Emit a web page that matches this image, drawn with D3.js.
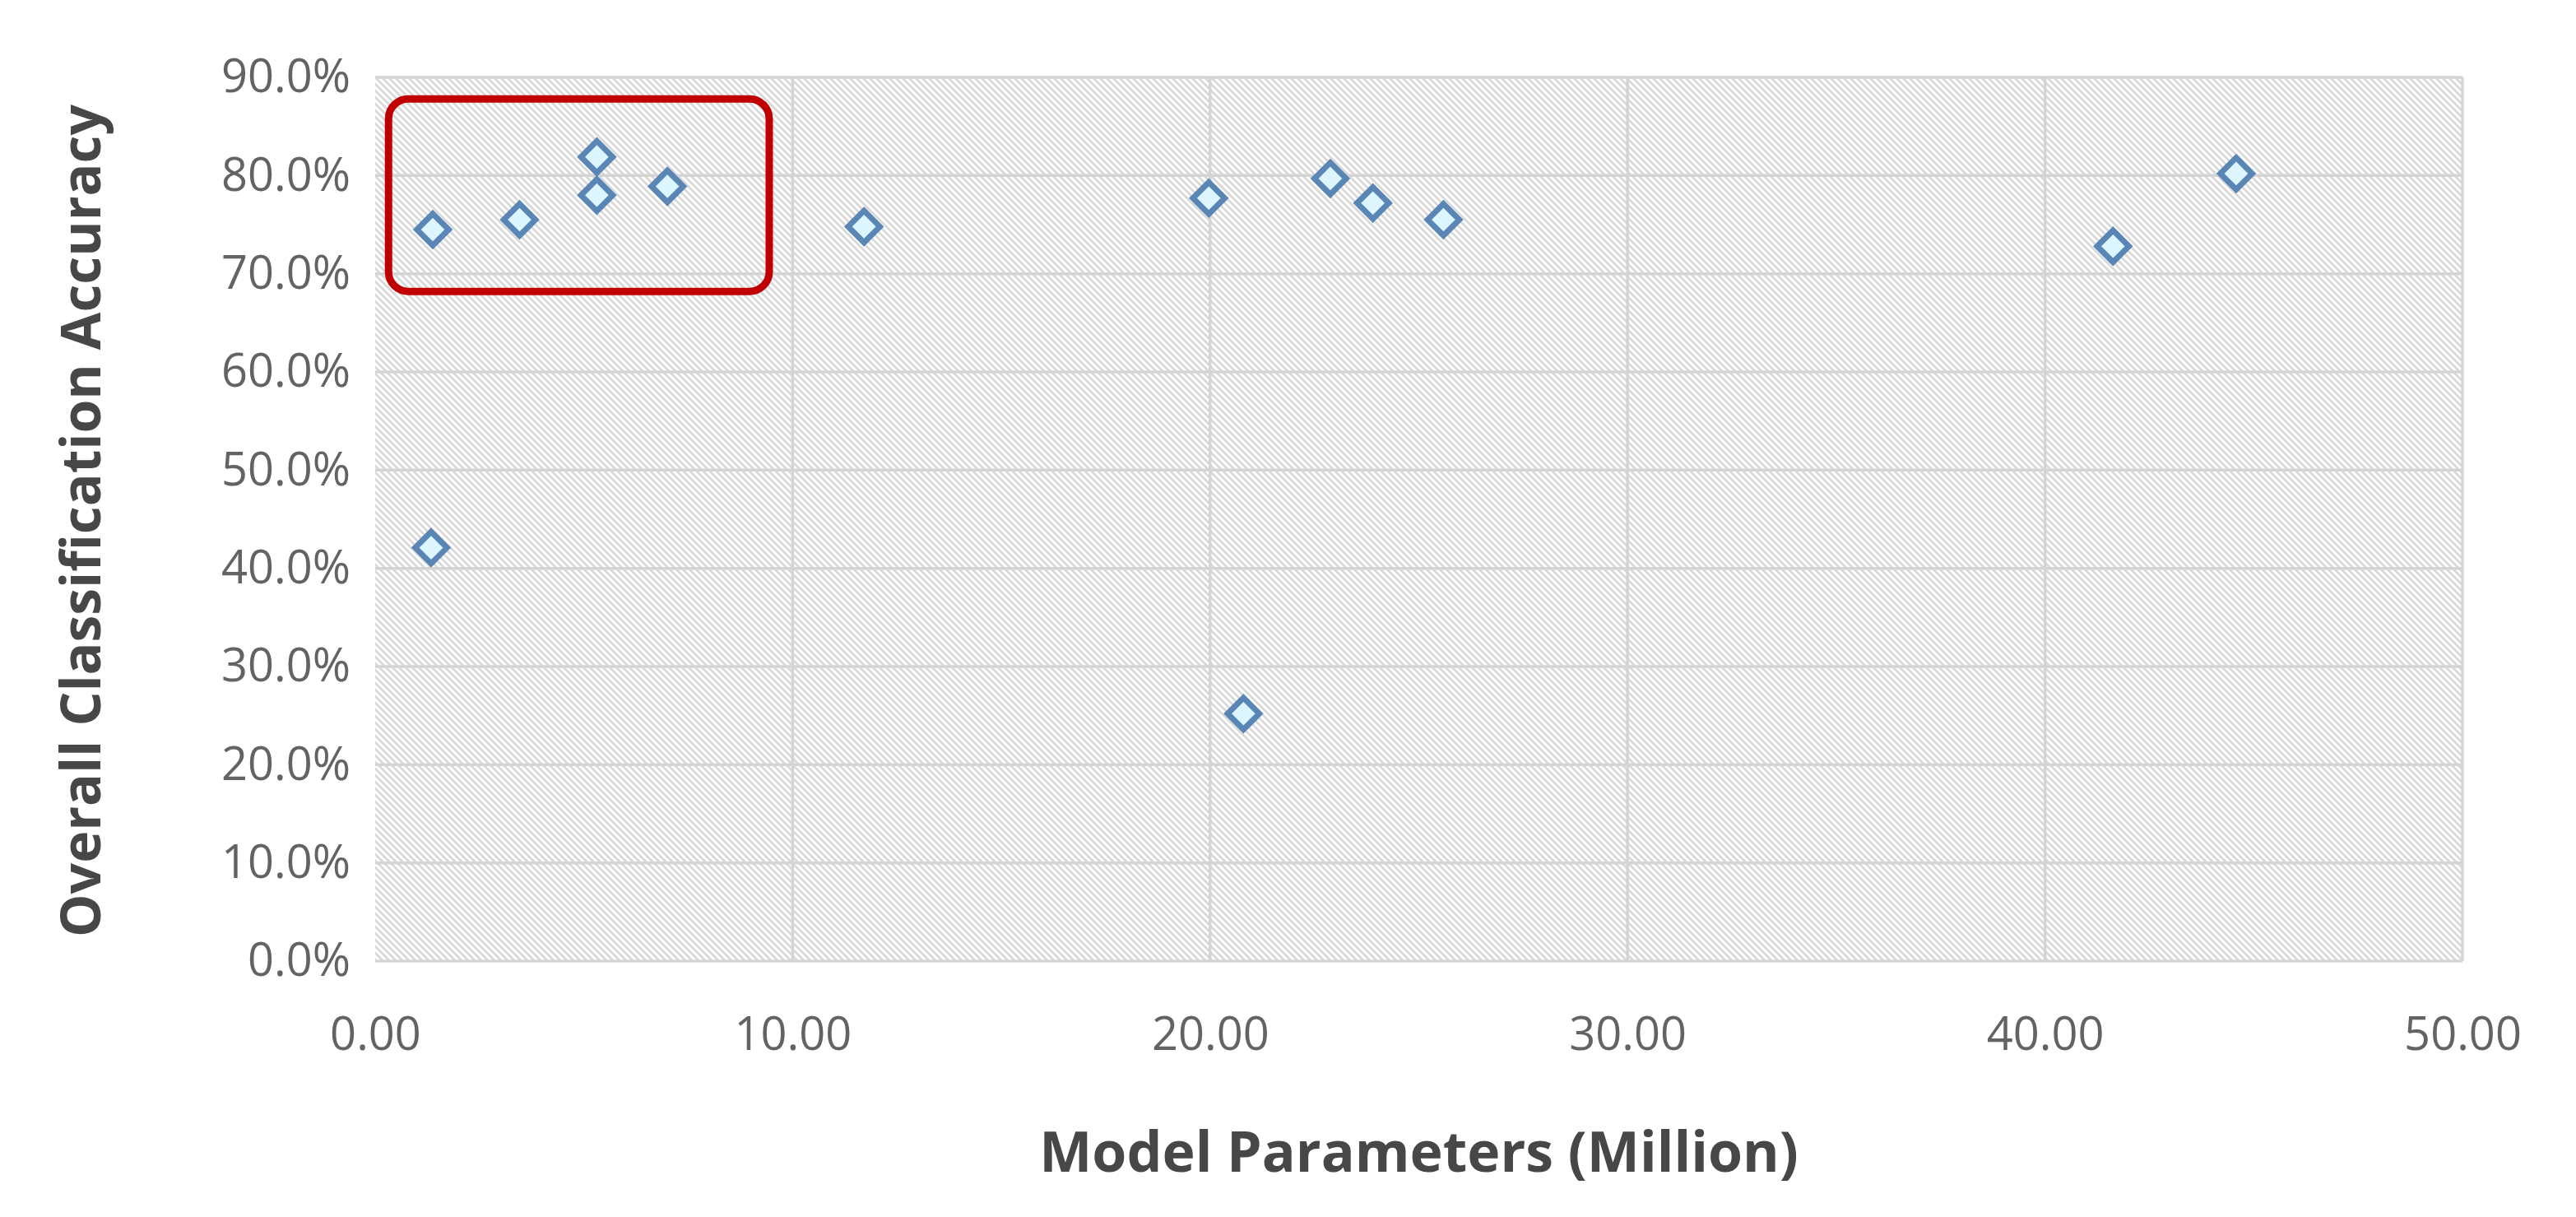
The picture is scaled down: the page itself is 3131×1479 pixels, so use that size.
<!DOCTYPE html>
<meta charset="utf-8">
<style>
    body { margin: 0; background: #fff; }
    .tick text { font-family: "Open Sans", sans-serif; fill: #636363; }
    .axis-title { font-family: "Open Sans", sans-serif; font-weight: 700; fill: #474747; }
</style>
<svg width="3131" height="1479"></svg>
<script src="https://cdn.jsdelivr.net/npm/d3@7"></script>
<script>
    // model size (million parameters) vs. overall accuracy (%)
    var params   = [1.38, 3.46, 5.31, 5.31, 7.00, 11.71, 19.97, 22.88, 23.90, 25.59, 41.63, 44.58, 1.34, 20.80];
    var accuracy = [74.5, 75.5, 81.9, 78.0, 78.9, 74.8, 77.7, 79.7, 77.2, 75.5, 72.8, 80.2, 42.1, 25.2];

    var xTicks = [0, 10, 20, 30, 40, 50];
    var yTicks = [0, 10, 20, 30, 40, 50, 60, 70, 80, 90];

    // highlighted group (red rounded box), in data units
    var boxX = [0.32, 9.44];
    var boxY = [68.2, 87.8];

    var xTitle = "Model Parameters (Million)";
    var yTitle = "Overall Classification Accuracy";

    var svg = d3.select("svg"),
        margin = {left: 456, right: 138, top: 94, bottom: 311},
        width = +svg.attr("width") - margin.left - margin.right,
        height = +svg.attr("height") - margin.top - margin.bottom;

    var x = d3.scaleLinear().domain([0, 50]).range([0, width]);
    var y = d3.scaleLinear().domain([0, 90]).range([height, 0]);

    // hatched plot area fill
    var defs = svg.append("defs");
    defs.append("pattern")
        .attr("id", "hatch")
        .attr("patternUnits", "userSpaceOnUse")
        .attr("width", 8).attr("height", 8)
        .append("path")
        .attr("d", "M-2,-2L10,10M-2,6L2,10M6,-2L10,2")
        .attr("stroke", "#d8d8d8")
        .attr("stroke-width", 2.8);

    var g = svg.append("g").attr("transform", "translate(" + margin.left + "," + margin.top + ")");

    g.append("rect")
        .attr("width", width).attr("height", height)
        .attr("fill", "url(#hatch)");

    // gridlines
    g.append("g")
        .selectAll("line.h")
        .data(yTicks)
        .enter().append("line")
        .attr("x1", 0).attr("x2", width)
        .attr("y1", function(d) { return y(d); })
        .attr("y2", function(d) { return y(d); })
        .attr("stroke", "#d4d4d4").attr("stroke-width", 3.5);

    g.append("g")
        .selectAll("line.v")
        .data(xTicks.slice(1))
        .enter().append("line")
        .attr("y1", 0).attr("y2", height)
        .attr("x1", function(d) { return x(d); })
        .attr("x2", function(d) { return x(d); })
        .attr("stroke", "#d4d4d4").attr("stroke-width", 3.5);

    // axes (labels only)
    var xAxis = g.append("g")
        .attr("transform", "translate(0," + height + ")")
        .call(d3.axisBottom(x).tickValues(xTicks).tickFormat(d3.format(".2f")).tickSize(0).tickPadding(68));
    var yAxis = g.append("g")
        .call(d3.axisLeft(y).tickValues(yTicks).tickFormat(function(d) { return d.toFixed(1) + "%"; }).tickSize(0).tickPadding(30));
    xAxis.select(".domain").remove();
    yAxis.select(".domain").remove();
    svg.selectAll(".tick text").attr("font-size", 56);

    // red highlight box
    g.append("rect")
        .attr("x", x(boxX[0]))
        .attr("y", y(boxY[1]))
        .attr("width", x(boxX[1]) - x(boxX[0]))
        .attr("height", y(boxY[0]) - y(boxY[1]))
        .attr("rx", 24).attr("ry", 24)
        .attr("fill", "none")
        .attr("stroke", "#c00000")
        .attr("stroke-width", 9);

    // diamond markers
    var diamond = d3.symbol().type(d3.symbolDiamond2).size(950);
    g.append("g")
        .selectAll("path")
        .data(params)
        .enter().append("path")
        .attr("d", diamond)
        .attr("transform", function(d, i) { return "translate(" + x(d) + "," + y(accuracy[i]) + ")"; })
        .attr("fill", "#dcf5ff")
        .attr("stroke", "#5a86b5")
        .attr("stroke-width", 7);

    // axis titles
    svg.append("text")
        .attr("class", "axis-title")
        .attr("x", margin.left + width / 2)
        .attr("y", 1424)
        .attr("text-anchor", "middle")
        .attr("font-size", 68)
        .text(xTitle);

    svg.append("text")
        .attr("class", "axis-title")
        .attr("transform", "translate(122," + (margin.top + height / 2 + 2) + ") rotate(-90)")
        .attr("text-anchor", "middle")
        .attr("font-size", 66)
        .text(yTitle);
</script>
